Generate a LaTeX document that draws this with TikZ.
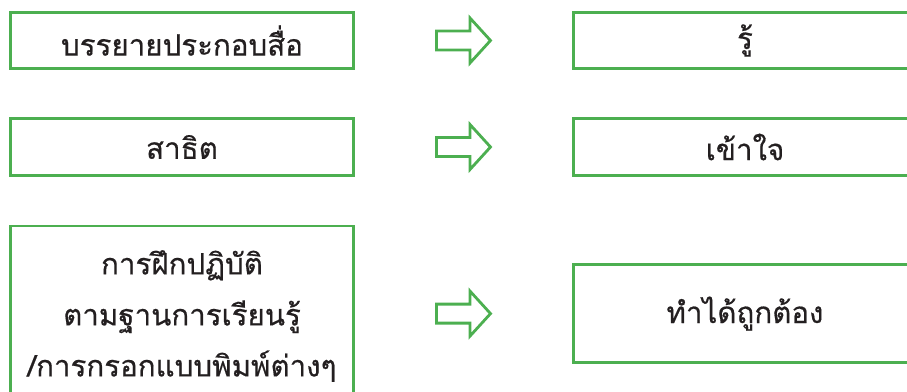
\documentclass[tikz,border=0pt]{standalone}
\usepackage{fontspec}
\usetikzlibrary{calc}
\newfontfamily\thaifont[Script=Thai,FakeBold=0.5]{Loma}
\definecolor{boxgreen}{RGB}{76,175,80}
\definecolor{ink}{RGB}{35,31,32}
\begin{document}
\begin{tikzpicture}[x=1pt,y=-1pt,
  box/.style={draw=boxgreen, line width=2.8pt, minimum width=343pt, minimum height=56.5pt,
    inner sep=0pt, font=\thaifont\fontsize{29.5}{51}\selectfont, text=ink, align=center},
  blockarr/.pic={\draw[draw=boxgreen, line width=2.8pt, line join=miter]
    (-27,-9.5) -- (6.5,-9.5) -- (6.5,-22.5) -- (27,0) -- (6.5,22.5) -- (6.5,9.5) -- (-27,9.5) -- cycle;}]
\useasboundingbox (0,0) rectangle (907,391);
\clip (0,0) rectangle (907,391);
\node[box] (l1) at (182,40.5) {บรรยายประกอบสื่อ};
\node[box] (l2) at (182,147) {สาธิต};
\node[box, minimum height=180pt] (l3) at (182,316) {การฝึกปฏิบัติ\\ตามฐานการเรียนรู้\\/การกรอกแบบพิมพ์ต่างๆ};
\node[box] (r1) at (745,40.5) {รู้};
\node[box] (r2) at (745,147) {เข้าใจ};
\node[box, minimum height=97.7pt] (r3) at (745,313.6) {ทำได้ถูกต้อง};
\coordinate (m1) at ($(l1.east)!0.5!(r1.west)$);
\coordinate (m2) at ($(l2.east)!0.5!(r2.west)$);
\coordinate (m3) at ($(l3.east)!0.5!(r3.west)$);
\pic at (m1) {blockarr};
\pic at (m2) {blockarr};
\pic at (m3 |- r3.west) {blockarr};
\end{tikzpicture}
\end{document}
